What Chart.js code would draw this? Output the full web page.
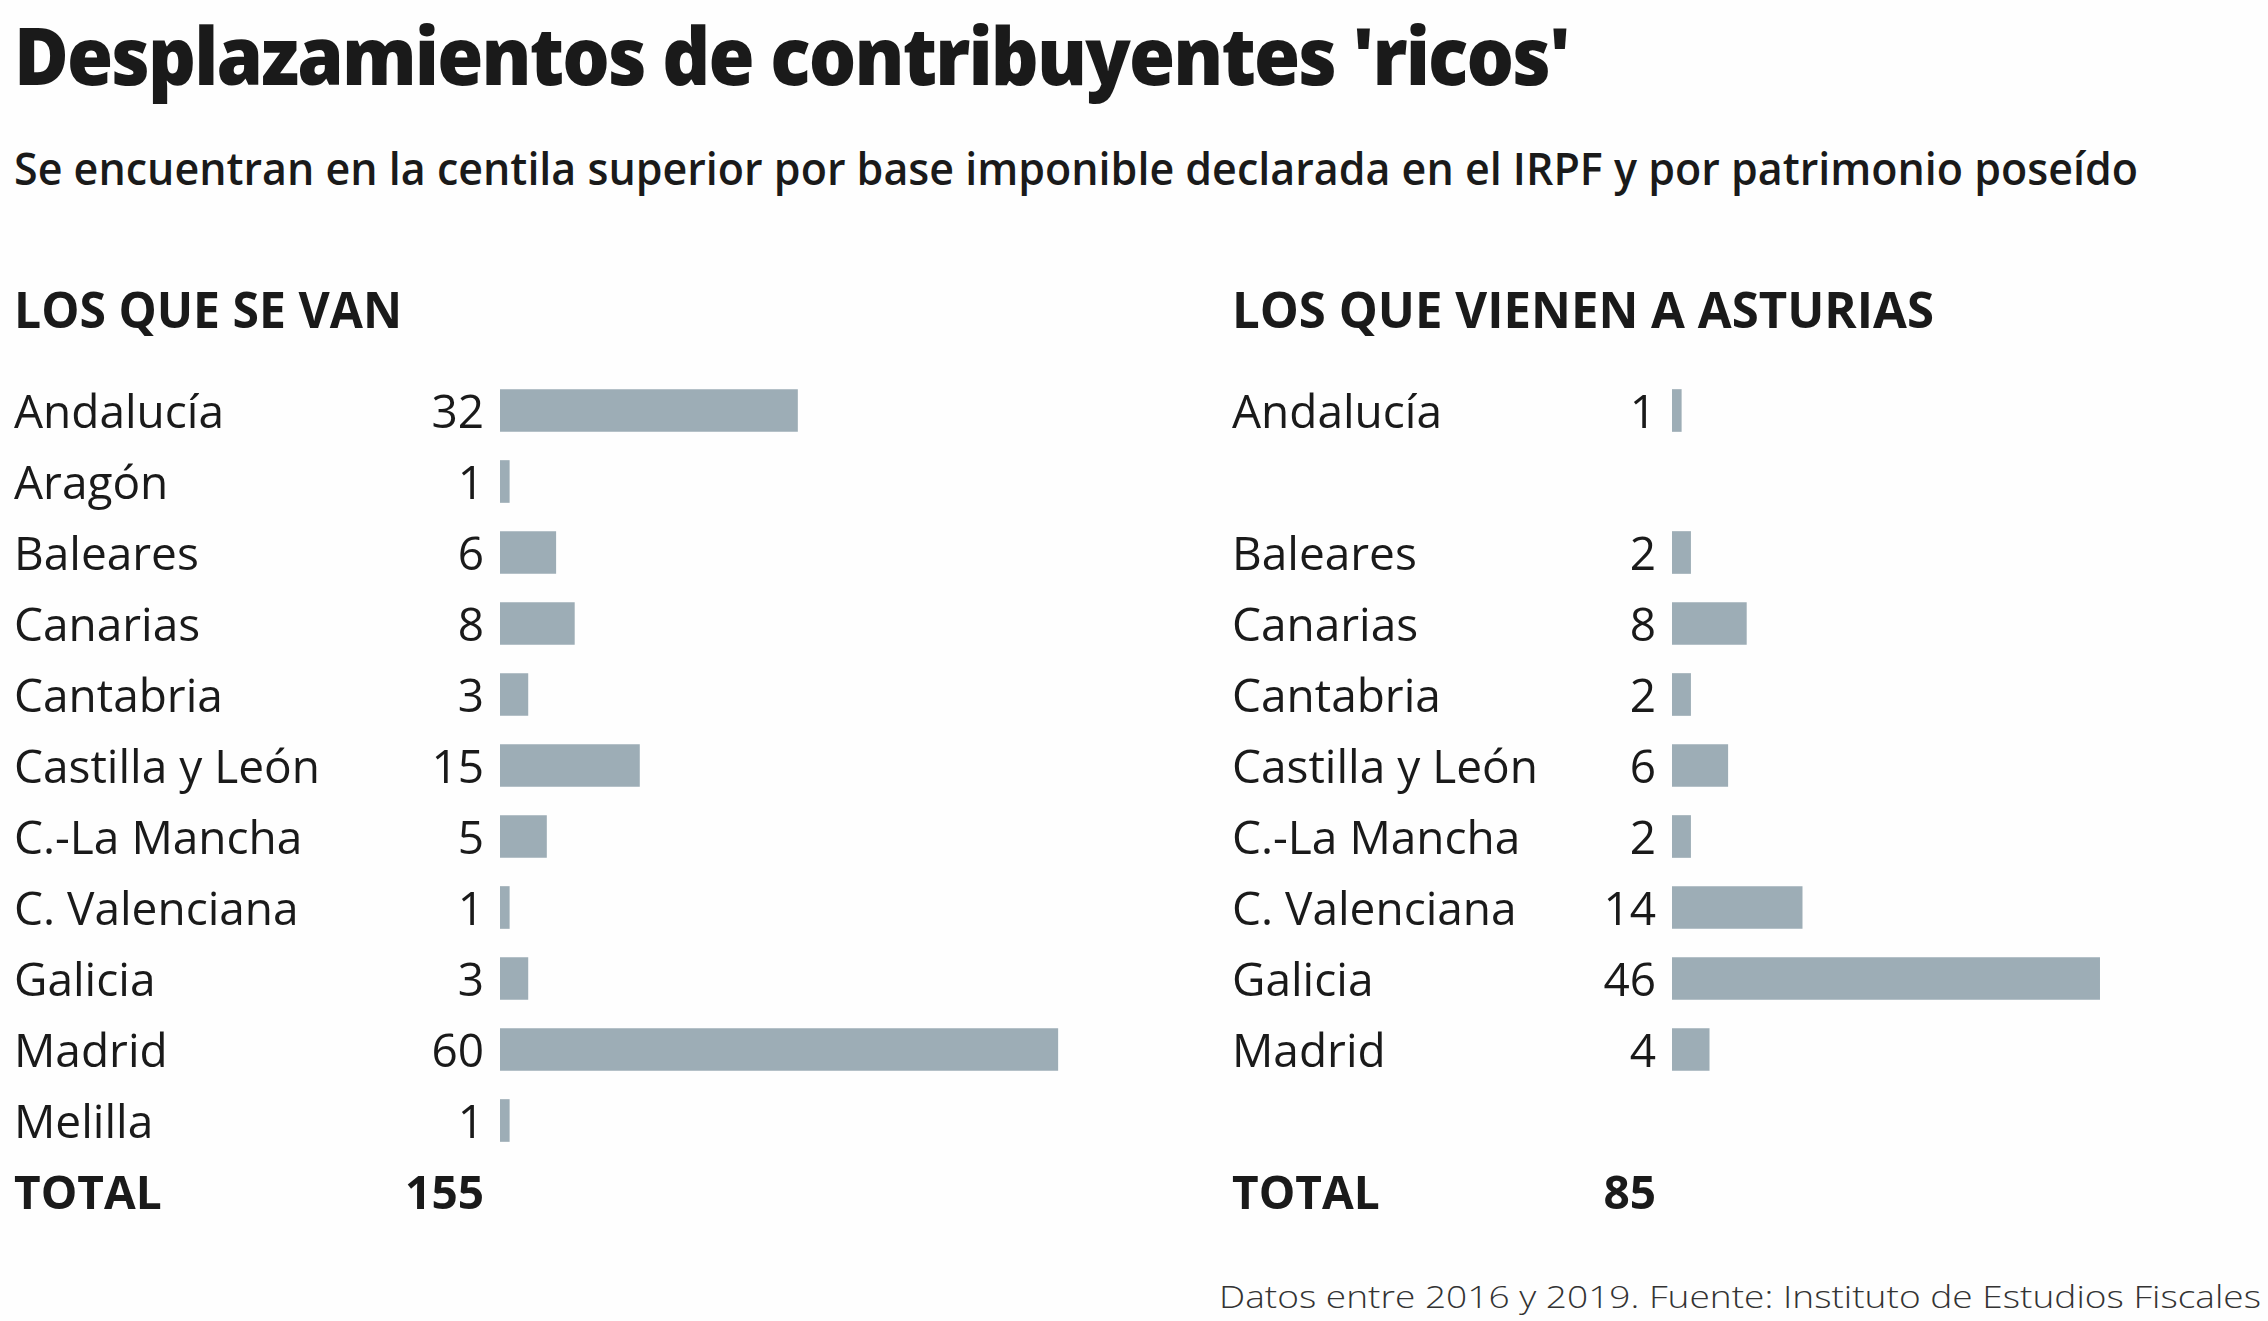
<!DOCTYPE html>
<html>
<head>
<meta charset="utf-8">
<script src="https://cdn.jsdelivr.net/npm/chart.js@4.4.1/dist/chart.umd.min.js"></script>
<style>
  body { margin: 0; background: #fefefe; width: 2268px; height: 1321px; overflow: hidden; font-family: 'Open Sans', sans-serif; color: #1a1a1a; }
  .txt { position: absolute; white-space: nowrap; line-height: 1; transform-origin: 0 0; }
  #title { left: 14px; top: 14px; font-size: 80px; font-weight: 800; letter-spacing: -2px; }
  #sub { left: 14px; top: 144px; font-size: 46px; font-weight: 600; }
  .head { top: 284px; font-size: 50px; font-weight: 700; }
  #foot { left: 1219px; top: 1280px; font-size: 32px; font-weight: 300; color: #333; }
  canvas { position: absolute; top: 375px; }
</style>
</head>
<body>
<div id="title" class="txt" data-w="1555">Desplazamientos de contribuyentes 'ricos'</div>
<div id="sub" class="txt" data-w="2124">Se encuentran en la centila superior por base imponible declarada en el IRPF y por patrimonio poseído</div>
<div class="txt head" style="left:14px" data-w="388">LOS QUE SE VAN</div>
<div class="txt head" style="left:1232px" data-w="702">LOS QUE VIENEN A ASTURIAS</div>
<div id="foot" class="txt" data-w="1042">Datos entre 2016 y 2019. Fuente: Instituto de Estudios Fiscales</div>

<canvas id="vanChart" width="1095" height="852" style="left:0px"></canvas>
<canvas id="vienenChart" width="1049" height="852" style="left:1218px"></canvas>

<script>
// datos
const vanLabels = ['Andalucía', 'Aragón', 'Baleares', 'Canarias', 'Cantabria', 'Castilla y León',
  'C.-La Mancha', 'C. Valenciana', 'Galicia', 'Madrid', 'Melilla', 'TOTAL'];
const vanValues = [32, 1, 6, 8, 3, 15, 5, 1, 3, 60, 1, null];
const vanTotal = 155;

const vienenLabels = ['Andalucía', '', 'Baleares', 'Canarias', 'Cantabria', 'Castilla y León',
  'C.-La Mancha', 'C. Valenciana', 'Galicia', 'Madrid', '', 'TOTAL'];
const vienenValues = [1, null, 2, 8, 2, 6, 2, 14, 46, 4, null, null];
const vienenTotal = 85;

const barColor = '#9dadb6';
const textColor = '#1a1a1a';
const textShift = 4;

// ajustar ancho de los textos
document.querySelectorAll('.txt').forEach(el => {
  const w = el.getBoundingClientRect().width;
  el.style.transform = 'scaleX(' + (el.dataset.w / w) + ')';
});

// numeros a la izquierda de cada barra
const valueLabels = {
  id: 'valueLabels',
  afterDatasetsDraw(chart, args, opts) {
    const ctx = chart.ctx;
    const yScale = chart.scales.y;
    const vals = chart.data.datasets[0].data;
    ctx.save();
    ctx.fillStyle = textColor;
    ctx.textAlign = 'right';
    ctx.textBaseline = 'middle';
    vals.forEach((v, i) => {
      if (v === null) return;
      ctx.font = '400 46px "Open Sans"';
      ctx.fillText(String(v), chart.chartArea.left - 16, yScale.getPixelForTick(i) + textShift);
    });
    const last = vals.length - 1;
    ctx.font = '700 46px "Open Sans"';
    ctx.fillText(String(opts.total), chart.chartArea.left - 16, yScale.getPixelForTick(last) + textShift);
    ctx.restore();
  }
};

function makeChart(id, labels, values, total, axisWidth) {
  return new Chart(document.getElementById(id), {
    type: 'bar',
    data: {
      labels: labels,
      datasets: [{
        data: values,
        backgroundColor: barColor,
        barThickness: 42,
        borderWidth: 0
      }]
    },
    options: {
      indexAxis: 'y',
      responsive: false,
      animation: false,
      devicePixelRatio: 1,
      layout: { padding: { left: 14, top: 0, bottom: 0, right: 0 } },
      plugins: {
        legend: { display: false },
        tooltip: { enabled: false },
        valueLabels: { total: total }
      },
      scales: {
        x: { display: false, min: 0, max: 64 },
        y: {
          grid: { display: false },
          border: { display: false },
          afterFit: (scale) => {
            scale.width = axisWidth;
            scale.paddingTop = 0;
            scale.paddingBottom = 0;
          },
          ticks: {
            autoSkip: false,
            padding: 0,
            labelOffset: textShift,
            crossAlign: 'far',
            color: textColor,
            font: (c) => ({
              family: 'Open Sans',
              size: 46,
              weight: c.index === labels.length - 1 ? '700' : '400'
            })
          }
        }
      }
    },
    plugins: [valueLabels]
  });
}

makeChart('vanChart', vanLabels, vanValues, vanTotal, 486);
makeChart('vienenChart', vienenLabels, vienenValues, vienenTotal, 440);
</script>
</body>
</html>
